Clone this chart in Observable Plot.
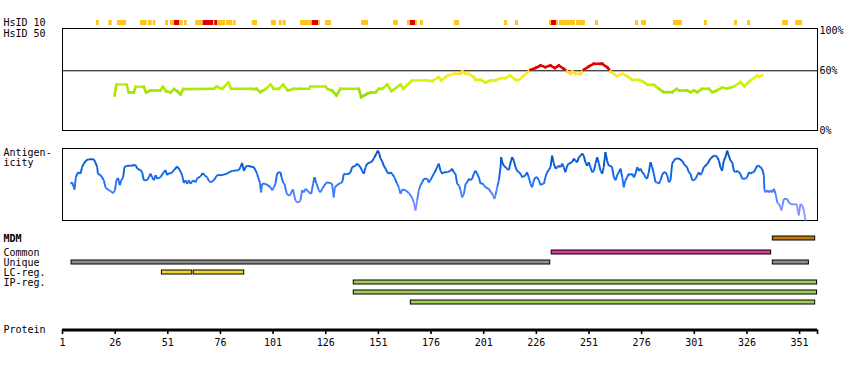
<!DOCTYPE html>
<html>
<head>
<meta charset="utf-8">
<script src="https://cdn.jsdelivr.net/npm/d3@7"></script>
<script src="https://cdn.jsdelivr.net/npm/@observablehq/plot@0.6"></script>
<style>
  body { margin: 0; background: #ffffff; }
  #chart { position: relative; width: 850px; height: 370px; background: #ffffff; }
  #chart svg { position: absolute; left: 0; }
</style>
</head>
<body>
<div id="chart"></div>
<script>
// ---------------- DATA ----------------
const proteinLength = 359;
const proteinTicks = [1, 26, 51, 76, 101, 126, 151, 176, 201, 226, 251, 276, 301, 326, 351];

// HsID 10 strip: residue ranges and level (o = identity >= 10%, r = high)
const hsid10Start = [17.1,23.0,27.1,38.0,41.8,44.1,50.0,52.3,54.2,56.6,58.9,64.2,67.8,72.8,73.3,74.7,78.9,82.3,91.1,100.2,103.9,105.8,114.0,119.6,122.7,125.9,143.0,158.2,164.8,166.2,168.6,171.0,187.1,210.9,216.1,232.2,233.2,235.6,237.0,245.1,254.1,273.1,275.9,291.1,305.8,320.1,326.3,342.9,349.1];
const hsid10End   = [18.4,24.6,31.4,41.2,43.6,45.3,51.3,54.2,56.6,58.3,60.2,67.8,72.8,73.3,74.7,78.5,81.9,83.5,93.6,102.6,105.3,107.2,119.6,122.7,123.5,128.7,146.3,160.5,166.2,168.6,169.6,172.4,189.5,212.3,217.5,233.2,235.6,236.5,244.6,249.3,255.5,274.5,278.3,295.4,307.2,321.5,327.7,345.7,352.4];
const hsid10Level = ["o","o","o","o","o","o","o","o","r","o","o","o","r","o","r","o","o","o","o","o","o","o","o","r","o","o","o","o","o","r","o","o","o","o","o","o","r","o","o","o","o","o","o","o","o","o","o","o","o"];

// HsID 50 (% identity) by residue
const hsid50Residue = [25.7,26.6,31.4,32.5,34.9,35.7,39.6,40.7,42.8,47.5,48.6,50.2,52.3,53.9,55.5,57.0,58.3,72.9,74.1,76.8,79.7,81.1,90.3,91.9,93.1,95.0,97.4,99.8,101.3,103.7,105.8,108.0,110.8,114.0,118.0,118.8,125.9,126.7,129.0,131.1,133.0,141.7,142.8,145.7,147.3,149.6,151.2,152.8,155.2,157.2,161.5,162.8,167.0,174.2,176.5,179.7,180.8,183.7,186.8,190.0,190.8,192.4,193.9,196.3,197.1,199.5,201.9,204.2,206.6,209.0,211.4,213.4,216.1,217.7,223.2,225.6,228.0,230.3,232.7,234.8,236.7,239.0,240.6,242.2,243.0,244.6,247.0,248.5,250.9,253.3,256.5,257.3,259.6,261.2,264.1,266.8,269.1,271.5,274.7,277.0,278.9,281.8,284.2,286.5,290.5,292.6,293.7,297.6,299.2,300.8,302.4,304.7,307.9,309.5,311.1,314.2,316.6,318.2,319.8,322.9,324.8,327.7,330.9,331.6,333.2];
const hsid50Value   = [35.2,46.2,46.2,38.2,38.2,43.9,43.9,38.2,40.2,40.2,43.9,39.5,38.2,41.6,39.5,36.2,41.6,41.9,44.2,41.9,48.2,41.9,41.9,41.6,41.9,38.5,41.6,46.2,41.9,41.9,46.2,40.2,41.9,41.9,41.9,44.2,44.2,41.9,40.2,35.2,41.9,41.9,33.5,36.9,38.2,38.2,41.9,41.9,46.2,39.5,46.2,41.9,50.3,50.3,49.6,53.6,50.3,54.9,57.0,57.0,59.6,57.0,57.0,53.6,50.9,50.9,48.2,50.3,50.3,52.6,52.6,55.3,50.9,50.9,60.9,62.9,65.3,63.6,65.3,62.9,65.3,62.0,59.6,57.0,59.6,57.0,57.0,60.9,64.3,67.0,67.0,67.0,63.6,59.6,54.6,57.0,54.6,50.9,50.9,48.6,45.9,45.9,41.9,38.5,38.5,41.9,40.2,40.2,38.5,40.2,38.5,41.9,41.9,38.5,39.5,43.2,42.2,43.2,44.2,48.6,44.6,50.3,55.3,53.6,55.6];

// Antigenicity (relative score 0..1) by residue
const antigenResidue = [4.8,5.6,6.7,7.3,8.3,9.5,10.3,11.1,12.4,13.5,15.9,16.7,17.5,17.8,19.0,19.8,20.6,21.4,22.5,23.8,25.1,25.9,26.6,27.4,28.2,28.9,29.8,30.4,31.4,33.3,35.7,36.5,38.0,38.8,39.6,41.2,42.0,42.8,43.6,44.4,45.2,46.0,47.5,49.1,49.9,50.7,51.5,52.3,53.1,53.9,55.5,56.7,57.8,58.6,59.4,60.2,61.0,61.8,63.0,64.2,65.0,66.5,67.6,68.4,69.7,70.5,71.3,72.9,74.4,76.8,79.2,80.0,81.6,84.7,85.5,86.3,87.1,87.9,88.7,91.9,92.6,93.4,93.9,94.7,95.3,95.8,97.4,99.8,100.6,101.3,102.1,102.9,103.7,104.5,105.0,105.8,106.4,107.4,108.0,109.0,109.6,110.4,110.9,111.6,112.4,113.5,114.0,114.8,115.6,116.4,117.2,118.0,119.1,120.0,120.7,121.1,121.6,122.7,123.5,124.3,125.9,126.7,128.3,129.0,129.8,130.3,131.4,132.2,133.0,133.8,134.6,135.4,137.0,137.8,138.5,140.1,140.9,142.5,143.3,144.1,144.9,145.7,147.3,148.0,148.8,150.1,150.7,151.4,152.0,152.8,153.6,154.4,155.2,156.0,156.7,157.5,158.6,159.9,160.7,161.5,162.3,163.9,165.5,167.0,167.8,168.6,169.4,170.2,171.0,171.8,172.6,174.2,174.9,175.7,177.3,178.1,178.9,179.7,180.5,181.3,182.1,183.7,185.2,186.0,186.8,187.6,188.4,189.2,190.0,190.8,191.6,192.4,193.2,193.9,194.7,195.5,196.3,197.1,197.9,198.7,199.5,200.3,201.1,201.9,203.4,204.5,205.5,206.1,206.6,207.4,208.2,209.0,209.3,209.8,210.6,212.1,212.9,213.4,214.0,214.5,215.3,216.1,216.9,217.7,218.5,219.3,220.9,221.6,222.4,223.2,224.0,224.8,225.6,226.4,227.2,228.0,228.8,229.6,230.3,231.1,231.9,232.7,233.5,234.3,235.1,235.9,236.7,237.5,238.3,239.0,239.8,240.6,241.4,243.0,243.8,244.6,245.4,246.2,247.0,247.8,248.5,249.3,250.1,250.9,251.7,252.5,253.3,254.1,254.9,255.7,256.5,257.3,258.0,258.8,259.6,260.4,261.2,262.0,262.8,263.6,264.4,265.2,266.0,266.8,267.5,268.3,269.1,269.9,270.7,271.5,272.3,273.1,273.9,274.7,275.5,276.2,277.0,277.8,278.6,279.4,280.2,281.0,281.8,282.6,283.4,284.2,285.0,285.7,286.5,287.3,288.1,288.9,289.7,290.5,291.3,292.1,293.7,295.2,296.0,296.8,297.6,298.4,299.2,300.0,300.8,301.6,302.4,303.2,303.9,304.7,305.5,307.1,308.7,310.3,311.1,311.9,312.7,313.4,314.2,315.0,315.8,316.6,317.4,318.2,319.0,319.8,320.6,321.4,322.2,322.9,323.7,325.3,326.1,326.9,327.7,328.5,329.3,330.1,330.9,331.6,332.4,333.2,334.0,334.3,334.8,335.6,336.4,337.2,338.0,338.8,339.6,340.4,341.1,341.9,342.4,342.9,343.5,345.1,345.9,346.7,348.3,349.1,349.8,350.6,351.4,352.2,353.0,353.8];
const antigenValue   = [0.51,0.53,0.43,0.60,0.67,0.65,0.74,0.79,0.84,0.85,0.85,0.80,0.74,0.65,0.63,0.60,0.56,0.46,0.43,0.41,0.38,0.42,0.56,0.59,0.49,0.56,0.60,0.74,0.76,0.76,0.77,0.72,0.70,0.67,0.56,0.56,0.60,0.65,0.60,0.56,0.63,0.58,0.60,0.67,0.70,0.63,0.66,0.65,0.67,0.70,0.75,0.70,0.63,0.52,0.56,0.51,0.56,0.51,0.56,0.53,0.59,0.61,0.66,0.63,0.60,0.55,0.53,0.56,0.63,0.63,0.65,0.67,0.69,0.70,0.74,0.80,0.69,0.74,0.76,0.74,0.70,0.65,0.60,0.53,0.39,0.51,0.51,0.46,0.42,0.46,0.51,0.65,0.67,0.67,0.60,0.52,0.51,0.38,0.35,0.35,0.39,0.43,0.37,0.28,0.25,0.26,0.28,0.42,0.39,0.44,0.42,0.39,0.37,0.51,0.60,0.56,0.51,0.42,0.39,0.44,0.51,0.53,0.52,0.51,0.32,0.46,0.49,0.51,0.52,0.53,0.65,0.64,0.65,0.67,0.74,0.76,0.79,0.74,0.69,0.65,0.74,0.79,0.81,0.82,0.86,0.93,0.97,0.93,0.86,0.82,0.76,0.72,0.67,0.65,0.67,0.65,0.60,0.51,0.46,0.37,0.43,0.42,0.38,0.32,0.25,0.14,0.28,0.42,0.49,0.53,0.58,0.58,0.53,0.56,0.65,0.69,0.74,0.79,0.69,0.65,0.67,0.67,0.69,0.72,0.67,0.65,0.51,0.49,0.42,0.32,0.37,0.51,0.53,0.58,0.56,0.58,0.65,0.69,0.65,0.60,0.51,0.52,0.49,0.46,0.44,0.39,0.35,0.30,0.35,0.46,0.56,0.74,0.88,0.81,0.76,0.72,0.70,0.76,0.83,0.88,0.83,0.74,0.69,0.67,0.65,0.60,0.63,0.67,0.60,0.51,0.46,0.56,0.60,0.60,0.56,0.49,0.51,0.51,0.60,0.67,0.70,0.74,0.90,0.79,0.72,0.74,0.76,0.74,0.79,0.74,0.67,0.76,0.79,0.81,0.86,0.83,0.81,0.88,0.90,0.93,0.90,0.81,0.76,0.81,0.74,0.67,0.69,0.79,0.88,0.79,0.69,0.65,0.74,0.95,0.83,0.76,0.76,0.74,0.60,0.56,0.63,0.67,0.72,0.60,0.46,0.56,0.60,0.65,0.63,0.65,0.60,0.65,0.74,0.69,0.72,0.67,0.65,0.60,0.58,0.67,0.81,0.74,0.65,0.53,0.53,0.51,0.56,0.63,0.67,0.67,0.63,0.53,0.56,0.79,0.83,0.86,0.86,0.83,0.79,0.76,0.74,0.67,0.65,0.56,0.56,0.58,0.63,0.67,0.63,0.67,0.74,0.78,0.86,0.90,0.90,0.88,0.83,0.74,0.69,0.83,0.88,0.97,0.90,0.83,0.81,0.69,0.67,0.69,0.67,0.65,0.58,0.58,0.60,0.67,0.65,0.67,0.67,0.72,0.76,0.76,0.74,0.72,0.63,0.42,0.39,0.42,0.39,0.42,0.39,0.44,0.37,0.25,0.23,0.19,0.14,0.21,0.30,0.30,0.25,0.23,0.22,0.23,0.21,0.07,0.23,0.21,0.14,0.00];

// Feature tracks
const featureTrack = ["MDM","Common","Unique","Unique","LC-reg.","LC-reg.","IP-reg.","IP-reg.","IP-reg."];
const featureRow   = ["MDM","Common","Unique","Unique","LC-reg.","LC-reg.","IP-reg. 1","IP-reg. 2","IP-reg. 3"];
const featureStart = [338.3,233.3,5.3,338.3,48.2,63.3,139.3,139.3,166.4];
const featureEnd   = [358.4,337.5,232.6,355.4,62.6,87.3,359.3,359.3,358.4];
const trackRows    = ["Common","Unique","LC-reg.","IP-reg. 1","IP-reg. 2","IP-reg. 3"];
const trackLabelRow  = ["Common","Unique","LC-reg.","IP-reg. 1"];
const trackLabelText = ["Common","Unique","LC-reg.","IP-reg."];

// ---------------- BUILD ----------------
const chart = document.getElementById("chart");
const xDomain = [1, proteinLength + 0.5];
const base = {
  width: 850,
  marginLeft: 62,
  marginRight: 33,
  style: {fontFamily: "'DejaVu Sans Mono', monospace", fontSize: "10px", color: "#000", background: "none", overflow: "visible"}
};
function place(svg, top) {
  svg.style.position = "absolute";
  svg.style.top = top + "px";
  svg.style.left = "0px";
  chart.appendChild(svg);
}
function segments(xs, vs) {
  const out = [];
  for (let i = 0; i < xs.length - 1; i++) {
    out.push({x1: xs[i], y1: vs[i], x2: xs[i + 1], y2: vs[i + 1], v: (vs[i] + vs[i + 1]) / 2});
  }
  return out;
}
const trackColor = {
  domain: ["MDM", "Common", "Unique", "LC-reg.", "IP-reg."],
  range: ["#c07a0c", "#d63a9f", "#8f8f8f", "#f0d52a", "#a4cc5a"]
};

// HsID 10 strip
const strip = hsid10Start.map((s, i) => ({start: s, end: hsid10End[i], level: hsid10Level[i]}));
place(Plot.plot({
  ...base,
  height: 26, marginTop: 20, marginBottom: 1,
  x: {domain: xDomain, axis: null},
  y: {domain: ["HsID 10"], axis: null, padding: 0},
  color: {domain: ["o", "r"], range: ["#ffc41f", "#e00000"]},
  marks: [
    Plot.barX(strip, {x1: "start", x2: "end", y: () => "HsID 10", fill: "level"}),
    Plot.text(["HsID 10"], {frameAnchor: "left", dx: -59, textAnchor: "start", lineAnchor: "middle"})
  ]
}), 0);

// HsID 50 panel
place(Plot.plot({
  ...base,
  height: 112, marginTop: 3, marginBottom: 7,
  x: {domain: xDomain, axis: null},
  y: {domain: [0, 102.5], axis: null},
  color: {type: "linear", domain: [33, 40, 46, 52, 56, 59.9, 60.1, 100],
          range: ["#88d800", "#a2e600", "#c4f200", "#e4f210", "#ffe828", "#ffd820", "#e00000", "#e00000"], clamp: true},
  marks: [
    Plot.frame({stroke: "#000"}),
    Plot.ruleY([60], {stroke: "#000"}),
    Plot.link(segments(hsid50Residue, hsid50Value), {x1: "x1", y1: "y1", x2: "x2", y2: "y2", stroke: "v", strokeWidth: 2.6, strokeLinecap: "square"}),
    Plot.axisY({anchor: "right", ticks: [0, 60, 100], tickSize: 0, tickPadding: 2, tickFormat: d => d + "%", label: null}),
    Plot.text(["HsID 50"], {frameAnchor: "top-left", dx: -59, dy: 5.5, textAnchor: "start", lineAnchor: "middle"})
  ]
}), 25);

// Antigenicity panel
place(Plot.plot({
  ...base,
  height: 85, marginTop: 8, marginBottom: 5,
  x: {domain: xDomain, axis: null},
  y: {domain: [0, 1], axis: null},
  color: {type: "linear", domain: [0, 0.2, 0.4, 0.6, 0.8, 1],
          range: ["#a0a0ff", "#7c8cff", "#3f7cff", "#1268ea", "#0758d4", "#004cb8"], clamp: true},
  marks: [
    Plot.frame({stroke: "#000"}),
    Plot.link(segments(antigenResidue, antigenValue), {x1: "x1", y1: "y1", x2: "x2", y2: "y2", stroke: "v", strokeWidth: 1.9}),
    Plot.text(["Antigen-\nicity"], {frameAnchor: "top-left", dx: -59, dy: 0, textAnchor: "start", lineAnchor: "top", lineHeight: 1.05})
  ]
}), 140);

// Feature rows
const features = featureTrack.map((t, i) => ({track: t, row: featureRow[i], start: featureStart[i], end: featureEnd[i]}));

place(Plot.plot({
  ...base,
  height: 15, marginTop: 5.8, marginBottom: 5.2,
  x: {domain: xDomain, axis: null},
  y: {domain: ["MDM"], axis: null, padding: 0},
  color: trackColor,
  marks: [
    Plot.barX(features.filter(d => d.row === "MDM"), {x1: "start", x2: "end", y: "row", fill: "track", stroke: "#000", strokeWidth: 1}),
    Plot.text(["MDM"], {frameAnchor: "left", dx: -59, textAnchor: "start", lineAnchor: "middle", fontWeight: "bold"})
  ]
}), 230);

place(Plot.plot({
  ...base,
  height: 70, marginTop: 7.3, marginBottom: 2.7,
  x: {domain: xDomain, axis: null},
  y: {domain: trackRows, axis: null, padding: 0},
  color: trackColor,
  marks: [
    Plot.barX(features.filter(d => d.row !== "MDM"), {x1: "start", x2: "end", y: "row", fill: "track", stroke: "#000", strokeWidth: 1, insetTop: 3, insetBottom: 3}),
    Plot.text(trackLabelRow, {y: d => d, text: (d, i) => trackLabelText[i], frameAnchor: "left", dx: -59, textAnchor: "start", lineAnchor: "middle"})
  ]
}), 240);

// Protein axis
place(Plot.plot({
  ...base,
  height: 50, marginTop: 0, marginBottom: 20.5,
  x: {domain: xDomain},
  y: {domain: [0, 1], axis: null},
  marks: [
    Plot.ruleY([0], {stroke: "#000", strokeWidth: 3}),
    Plot.axisX({ticks: proteinTicks, tickSize: 4.5, tickPadding: 4, strokeWidth: 1.6, label: null, tickFormat: d => String(d)}),
    Plot.axisX({ticks: [proteinLength + 0.5], tickSize: 4.5, strokeWidth: 1.6, label: null, tickFormat: () => ""}),
    Plot.text(["Protein"], {frameAnchor: "bottom-left", dx: -59, textAnchor: "start", lineAnchor: "middle"})
  ]
}), 300);
</script>
</body>
</html>
